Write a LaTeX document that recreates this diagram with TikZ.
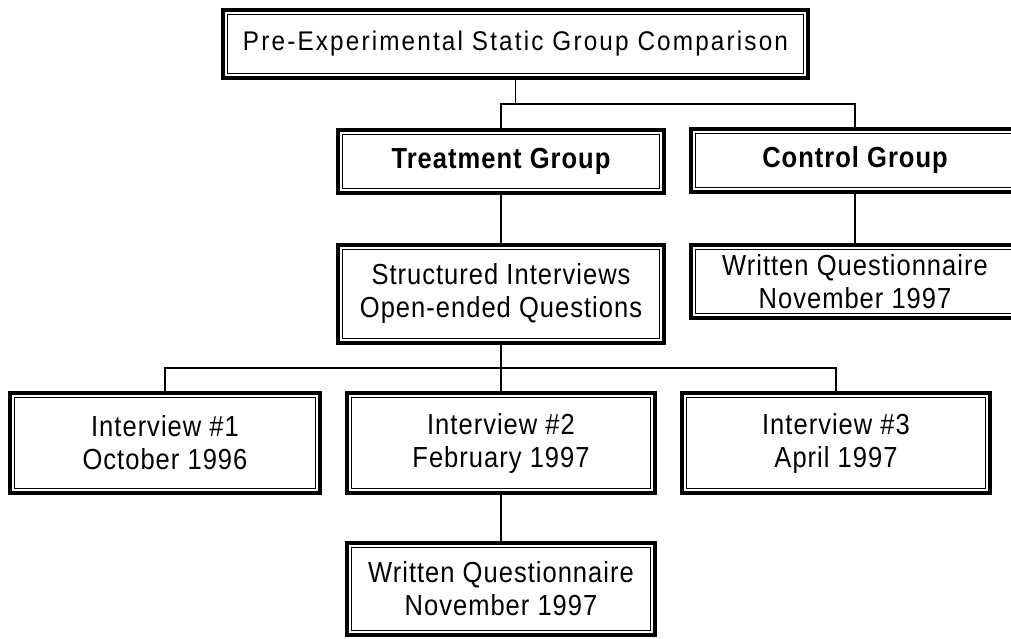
\documentclass[tikz,border=0pt]{standalone}
\usepackage{fontspec}
\setmainfont{Liberation Sans}
\newfontfamily\lblfont[LetterSpace=3.5,FakeStretch=0.88]{Liberation Sans}
\newfontfamily\titlefont[LetterSpace=8,FakeStretch=0.9]{Liberation Sans}
\begin{document}
\begin{tikzpicture}[x=1pt,y=-1pt,
  % box with a heavy outer frame and a thin inner frame
  dbox/.style={draw, line width=4pt, inner sep=0pt, outer sep=0pt, align=center,
    font=\lblfont\fontsize{29}{33}\selectfont,
    path picture={\draw[line width=1.3pt]
      ([shift={(4.7pt,-4.7pt)}]path picture bounding box.north west) rectangle
      ([shift={(-4.7pt,4.7pt)}]path picture bounding box.south east);}},
  boldbox/.style={dbox, font=\lblfont\fontsize{29}{33}\selectfont\bfseries},
  link/.style={line width=1.7pt}]
\useasboundingbox (0,0) rectangle (1011,639);
\clip (0,0) rectangle (1011,639);

% boxes
\node[dbox, minimum width=585pt, minimum height=68pt,
  font=\titlefont\fontsize{27}{30}\selectfont] (top) at (515.5,44)
  {Pre-Experimental Static Group Comparison};
\node[boldbox, minimum width=326pt, minimum height=63pt] (treat) at (501,161.5)
  {Treatment Group};
\node[boldbox, minimum width=328pt, minimum height=63pt] (ctrl) at (855,160.5)
  {Control Group};
\node[dbox, minimum width=326pt, minimum height=98pt] (struct) at (501,294)
  {Structured Interviews\\Open-ended Questions};
\node[dbox, minimum width=328pt, minimum height=73pt] (wqa) at (855,281.5)
  {Written Questionnaire\\November 1997};
\node[dbox, minimum width=310pt, minimum height=100pt] (ia) at (165,443)
  {Interview \#1\\October 1996};
\node[dbox, minimum width=308pt, minimum height=100pt] (ib) at (501,443)
  {Interview \#2\\February 1997};
\node[dbox, minimum width=308pt, minimum height=100pt] (ic) at (836,443)
  {Interview \#3\\April 1997};
\node[dbox, minimum width=308pt, minimum height=92pt] (wqb) at (501,589)
  {Written Questionnaire\\November 1997};

% branch levels
\coordinate (barA) at (0,104);
\coordinate (barB) at (0,368);

% connectors
\draw[link] (top.south) -- (top.south |- barA);
\draw[link] (treat.north) -- (treat.north |- barA) -- (ctrl.north |- barA) -- (ctrl.north);
\draw[link] (treat.south) -- (struct.north);
\draw[link] (ctrl.south) -- (wqa.north);
\draw[link] (struct.south) -- (ib.north);
\draw[link] (ia.north) -- (ia.north |- barB) -- (ic.north |- barB) -- (ic.north);
\draw[link] (ib.south) -- (wqb.north);
\end{tikzpicture}
\end{document}
